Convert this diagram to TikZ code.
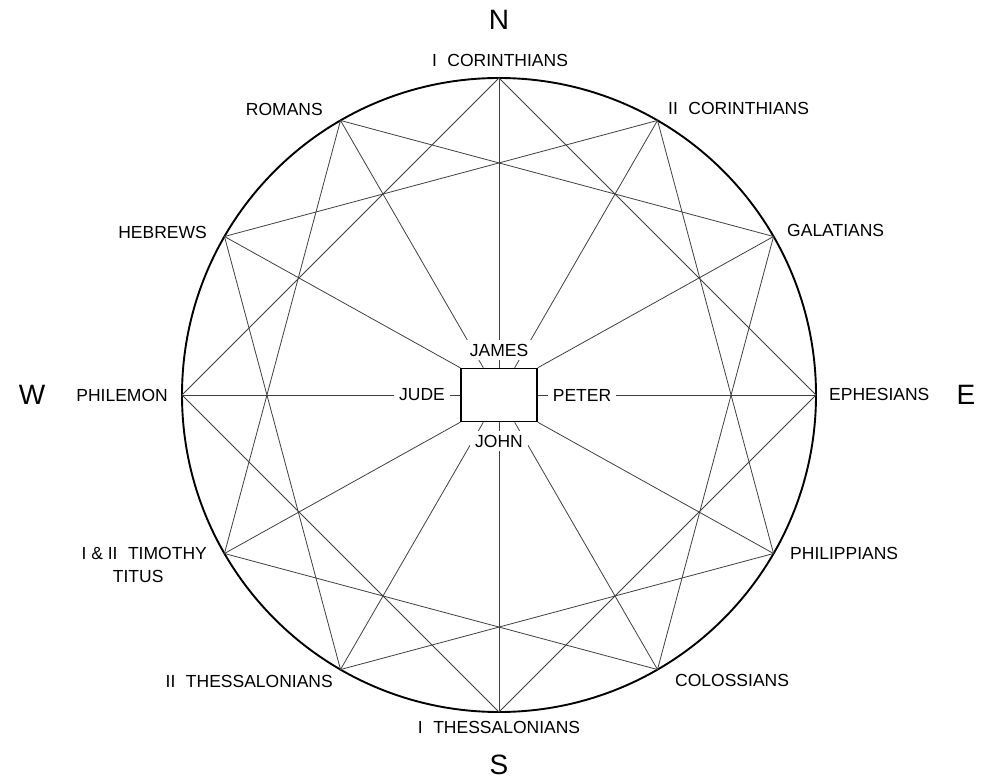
\documentclass[tikz,border=0pt]{standalone}
\usepackage{fontspec}
\setmainfont{Liberation Sans}
\newcommand\rgap{\hspace{0.6em}}
\begin{document}
\begin{tikzpicture}[x=1pt,y=-1pt,
  chord/.style={line width=0.8pt, black!75},
  rim/.style={line width=1.9pt, black},
  lbl/.style={font=\fontsize{17.5}{23}\selectfont, inner sep=0pt},
  inlbl/.style={font=\fontsize{17.5}{23}\selectfont, fill=white, inner xsep=5pt, inner ysep=4pt},
  compass/.style={font=\fontsize{28}{30}\selectfont, inner sep=0pt},
  cbox/.style={draw, line width=1.4pt, minimum width=76pt, minimum height=53pt, inner sep=0pt},
]
\useasboundingbox (0,0) rectangle (981,783);
\coordinate (O) at (499,395);
\foreach \k in {0,...,11}
  \coordinate (p\k) at ({499+317*sin(30*\k)},{395-317*cos(30*\k)});
% outer circle
\draw[rim] (O) circle[radius=317];
% central box
\node[cbox] (box) at (O) {};
% chords (three squares)
\foreach \k in {0,...,11}{
  \pgfmathtruncatemacro{\j}{mod(\k+3,12)}
  \draw[chord] (p\k) -- (p\j);
}
% radial lines
\foreach \k in {0,1,11,5,6,7}
  \draw[chord] (p\k) -- (box);
\draw[chord] (p10) -- (box.north west);
\draw[chord] (p2) -- (box.north east);
\draw[chord] (p8) -- (box.south west);
\draw[chord] (p4) -- (box.south east);
\draw[chord] (p9) -- (box.west);
\draw[chord] (p3) -- (box.east);
% inner labels
\node[inlbl] (james) at (499,350) {JAMES};
\node[inlbl] (john) at (499,441) {JOHN};
\node[inlbl] (jude) at (422,395) {JUDE};
\node[inlbl] (peter) at (582,395) {PETER};
% outer labels
\node[lbl] (l0) at (500,60) {I\rgap CORINTHIANS};
\node[lbl, anchor=west] (l1) at (668,108) {II\rgap CORINTHIANS};
\node[lbl, anchor=west] (l2) at (787,230) {GALATIANS};
\node[lbl, anchor=west] (l3) at (829,394) {EPHESIANS};
\node[lbl, anchor=west] (l4) at (790,553) {PHILIPPIANS};
\node[lbl, anchor=west] (l5) at (675,680) {COLOSSIANS};
\node[lbl] (l6) at (499,727) {I\rgap THESSALONIANS};
\node[lbl, anchor=east] (l7) at (333,681) {II\rgap THESSALONIANS};
\node[lbl, anchor=east, align=center] (l8) at (207,565) {I \& II\rgap TIMOTHY\\TITUS\hspace*{12pt}};
\node[lbl, anchor=east] (l9) at (168,395) {PHILEMON};
\node[lbl, anchor=east] (l10) at (207,232) {HEBREWS};
\node[lbl, anchor=east] (l11) at (323,109) {ROMANS};
% compass
\node[compass] (cN) at (499,20) {N};
\node[compass] (cS) at (499,765) {S};
\node[compass] (cW) at (32,395) {W};
\node[compass] (cE) at (966,395) {E};
\end{tikzpicture}
\end{document}
